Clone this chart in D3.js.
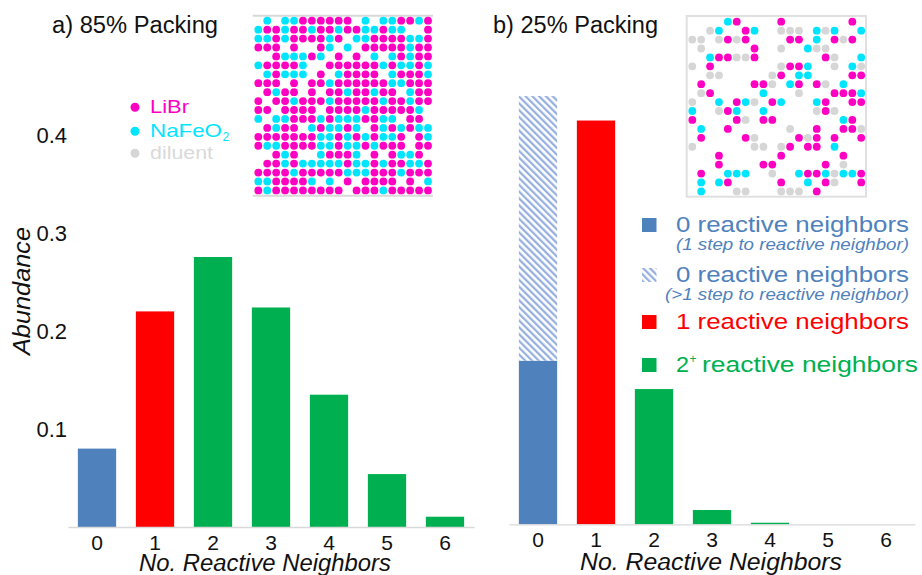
<!DOCTYPE html>
<html>
<head>
<meta charset="utf-8">
<script src="https://cdn.jsdelivr.net/npm/d3@7"></script>
<style>
  html, body { margin: 0; padding: 0; background: #fff; }
  svg { display: block; font-family: Arial, "Liberation Sans", sans-serif; }
</style>
</head>
<body>
<svg id="chart" width="922" height="575"></svg>
<script>
// Number of reactive neighbours on the lattice (x categories)
const categories = [0, 1, 2, 3, 4, 5, 6];
const yTicks = [0.1, 0.2, 0.3, 0.4];

// a) 85% packing — abundance per category
const abundance85 = [0.080, 0.220, 0.2755, 0.224, 0.135, 0.054, 0.0105];
// b) 25% packing — abundance per category (0 neighbours split into 1-step and >1-step parts)
const abundance25 = [0.167, 0.412, 0.138, 0.0146, 0.0016, 0, 0];
const abundance25Far = [0.270, 0, 0, 0, 0, 0, 0];

// Lattice snapshots: M = LiBr, C = NaFeO2, G = diluent, . = empty site
const lattice85 = [
  ".C.CCMMMMMM.C.CCMMCM",
  "CMMCMMCMMCMMCCMCC..M",
  "CCMCMMMMCM.CCMMMMCCM",
  "MMM.M..MC.C.MMMMMCMM",
  "..MCCCMC.M.M.C.CMCMM",
  "CMMMMC..MMMMMMCMCCMC",
  ".CMCCC.M.CMMMM.CMMMC",
  "MMM.M.MMCMMMMMMCCMMM",
  ".MCMM.M.MMCMMCMM.CMM",
  "M.MMCMMMCMMMMMCMMCMM",
  "MM.MMMM.MMMMCMMMMMC.",
  "C.CCMMMCMCCCMMCC.MM.",
  ".MCMM.CMCCMC.MCMCMCC",
  "MMMMMMMCCMCMCMCCM.MC",
  "MCCMMMMCCMCCMCMMM.MM",
  "..MCM..CMMMC.M.MCCM.",
  ".MMCMCCCCCMCCMCMMCCM",
  "MMMMCMMMMMCCCMMMCMMM",
  "CCMMMMC.C.M.MMMM.M.C",
  "MCMMMMMMMM.MMMCMMMMM"
];
const lattice25 = [
  "....CM....M.......M.",
  "..GC..MC..GGG.CGC..C",
  "GG.GMGM....MM.C.MGM.",
  ".G.....M..G..CGG....",
  "..CMMGGM.......MG..C",
  "G.M.......GMMC..G.CG",
  "..GG.....GM.CC....MM",
  ".M.....MMG.CM.MG.C..",
  ".GM.....C...G...MMMC",
  "G..C.MCG.MC...CM..MM",
  "C..GMC..C.....GMG...",
  "M....MG.MM.......CM.",
  ".C..M......G..M..MMG",
  ".M....MG....MGM.M..M",
  "G......GG.GM.MM.C...",
  "...M......M......M..",
  "...M....MM.....M.G..",
  ".M..CCC..G..CMMCGCCM",
  ".C.CM.....M..C.MG..M",
  ".C...GG...GGG.M....."
];
const speciesNames = ["LiBr", "NaFeO", "diluent"];

const COLORS = { blue: "#4f81bd", red: "#ff0000", green: "#00b050", hatch: "#8eaadb", axis: "#d9d9d9" };
const SITE = { M: "#ff00c3", C: "#00e5ff", G: "#d6d6d6" };
const barColor = c => c === 0 ? COLORS.blue : c === 1 ? COLORS.red : COLORS.green;

const svg = d3.select("#chart");
svg.append("rect").attr("width", 922).attr("height", 575).attr("fill", "#fff");

// Diagonal hatch for the >1-step share
const defs = svg.append("defs");
const pat = defs.append("pattern")
  .attr("id", "hatch")
  .attr("patternUnits", "userSpaceOnUse")
  .attr("width", 4.8).attr("height", 4.8)
  .attr("patternTransform", "rotate(-45)");
pat.append("rect").attr("width", 4.8).attr("height", 4.8).attr("fill", "#fff");
pat.append("line").attr("x1", 1.2).attr("y1", 0).attr("x2", 1.2).attr("y2", 4.8)
  .attr("stroke", COLORS.hatch).attr("stroke-width", 2.1);

// ---------- panel helper ----------
function drawPanel({ x0, x1, base, top, values, farValues, showY }) {
  const x = d3.scaleBand().domain(categories).range([x0, x1]).paddingInner(0.34).paddingOuter(0.17);
  const y = d3.scaleLinear().domain([0, 0.4]).range([base, top]);
  const g = svg.append("g");

  g.selectAll("rect.bar").data(categories).join("rect")
    .attr("class", "bar")
    .attr("x", c => x(c)).attr("width", x.bandwidth())
    .attr("y", c => y(values[c])).attr("height", c => y(0) - y(values[c]))
    .attr("fill", c => barColor(c));

  if (farValues) {
    g.selectAll("rect.far").data(categories.filter(c => farValues[c] > 0)).join("rect")
      .attr("class", "far")
      .attr("x", c => x(c)).attr("width", x.bandwidth())
      .attr("y", c => y(values[c] + farValues[c]))
      .attr("height", c => y(values[c]) - y(values[c] + farValues[c]))
      .attr("fill", "url(#hatch)");
  }

  const xAxis = g.append("g").attr("transform", `translate(0,${base})`)
    .call(d3.axisBottom(x).tickSize(0).tickSizeOuter(0).tickPadding(8));
  xAxis.select(".domain").attr("stroke", COLORS.axis).attr("stroke-width", 1.3);
  xAxis.selectAll("text").attr("font-size", 21).attr("font-family", "Arial, 'Liberation Sans', sans-serif").attr("fill", "#111");

  if (showY) {
    const yAxis = g.append("g").attr("transform", `translate(${x0 + 1},0)`)
      .call(d3.axisLeft(y).tickValues(yTicks).tickFormat(d3.format(".1f")).tickSize(0).tickPadding(2));
    yAxis.select(".domain").remove();
    yAxis.selectAll("text").attr("font-size", 22).attr("font-family", "Arial, 'Liberation Sans', sans-serif").attr("fill", "#111");
  }
  return x;
}

drawPanel({ x0: 68, x1: 474, base: 527, top: 135, values: abundance85, showY: true });
drawPanel({ x0: 509, x1: 915, base: 524.3, top: 132.3, values: abundance25, farValues: abundance25Far, showY: false });

// Axis titles
svg.append("text").attr("x", 265).attr("y", 570.5).attr("text-anchor", "middle")
  .attr("font-size", 23).attr("font-style", "italic").attr("fill", "#111")
  .attr("textLength", 252).attr("lengthAdjust", "spacingAndGlyphs").text("No. Reactive Neighbors");
svg.append("text").attr("x", 711).attr("y", 570).attr("text-anchor", "middle")
  .attr("font-size", 23).attr("font-style", "italic").attr("fill", "#111")
  .attr("textLength", 262).attr("lengthAdjust", "spacingAndGlyphs").text("No. Reactive Neighbors");
svg.append("text").attr("transform", "translate(30,291) rotate(-90)").attr("text-anchor", "middle")
  .attr("font-size", 24).attr("font-style", "italic").attr("fill", "#111")
  .attr("textLength", 128).attr("lengthAdjust", "spacingAndGlyphs").text("Abundance");

// Panel titles
svg.append("text").attr("x", 52).attr("y", 33).attr("font-size", 23).attr("fill", "#111")
  .attr("textLength", 166).attr("lengthAdjust", "spacingAndGlyphs").text("a) 85% Packing");
svg.append("text").attr("x", 493).attr("y", 33).attr("font-size", 23).attr("fill", "#111")
  .attr("textLength", 165).attr("lengthAdjust", "spacingAndGlyphs").text("b) 25% Packing");

// ---------- lattice snapshots ----------
function drawLattice(rows, colRange, rowRange) {
  const cx = d3.scalePoint().domain(d3.range(20)).range(colRange);
  const cy = d3.scalePoint().domain(d3.range(20)).range(rowRange);
  const sites = [];
  rows.forEach((row, r) => row.split("").forEach((k, c) => { if (k !== ".") sites.push({ r, c, k }); }));
  svg.append("g").selectAll("circle").data(sites).join("circle")
    .attr("cx", d => cx(d.c)).attr("cy", d => cy(d.r)).attr("r", 3.9)
    .attr("fill", d => SITE[d.k]);
}

// frame of the 85% snapshot (top and bottom rules)
svg.append("line").attr("x1", 252.7).attr("x2", 433).attr("y1", 15.7).attr("y2", 15.7)
  .attr("stroke", "#d9d9d9").attr("stroke-width", 2);
svg.append("line").attr("x1", 252.7).attr("x2", 433).attr("y1", 195.7).attr("y2", 195.7)
  .attr("stroke", "#d9d9d9").attr("stroke-width", 2);
drawLattice(lattice85, [258.3, 428], [20.7, 190.4]);

svg.append("rect").attr("x", 686.7).attr("y", 16).attr("width", 179.3).attr("height", 180.7)
  .attr("fill", "none").attr("stroke", "#e0e0e0").attr("stroke-width", 2);
drawLattice(lattice25, [692.3, 861.2], [21.7, 191.4]);

// ---------- species legend ----------
const spKeys = ["M", "C", "G"];
const spY = [107.3, 131.3, 153.3];
const spWidth = [39, 72, 63];
const spText = ["#ff00c3", "#00e5ff", "#d9d9d9"];
spKeys.forEach((k, i) => {
  svg.append("circle").attr("cx", 135).attr("cy", spY[i]).attr("r", 4.5).attr("fill", SITE[k]);
  svg.append("text").attr("x", 150).attr("y", spY[i] + 5.8).attr("font-size", 18.5).attr("fill", spText[i])
    .attr("textLength", spWidth[i]).attr("lengthAdjust", "spacingAndGlyphs").text(speciesNames[i]);
});
svg.append("text").attr("x", 222.5).attr("y", spY[1] + 9.5).attr("font-size", 12).attr("fill", spText[1]).text("2");

// ---------- reactive-neighbour legend ----------
const legendRows = [
  { fill: COLORS.blue, label: "0 reactive neighbors", note: "(1 step to reactive neighbor)", color: COLORS.blue, y: 225 },
  { fill: "url(#hatch)", label: "0 reactive neighbors", note: "(>1 step to reactive neighbor)", color: COLORS.blue, y: 275 },
  { fill: COLORS.red, label: "1 reactive neighbors", color: COLORS.red, y: 322 },
  { fill: COLORS.green, label: "2", sup: "+", rest: "reactive neighbors", color: COLORS.green, y: 365 }
];
legendRows.forEach(d => {
  svg.append("rect").attr("x", 642).attr("y", d.y - 7).attr("width", 14.5).attr("height", 14)
    .attr("fill", d.fill);
  if (d.sup) {
    svg.append("text").attr("x", 676).attr("y", d.y + 7).attr("font-size", 22).attr("fill", d.color)
      .attr("textLength", 13).attr("lengthAdjust", "spacingAndGlyphs").text(d.label);
    svg.append("text").attr("x", 689.5).attr("y", d.y - 2).attr("font-size", 12).attr("fill", d.color).text(d.sup);
    svg.append("text").attr("x", 702).attr("y", d.y + 7).attr("font-size", 22).attr("fill", d.color)
      .attr("textLength", 216).attr("lengthAdjust", "spacingAndGlyphs").text(d.rest);
  } else {
    svg.append("text").attr("x", 676).attr("y", d.y + 6.5).attr("font-size", 22).attr("fill", d.color)
      .attr("textLength", 233).attr("lengthAdjust", "spacingAndGlyphs").text(d.label);
  }
  if (d.note) {
    svg.append("text").attr("x", 909).attr("y", d.y + 24.5).attr("text-anchor", "end")
      .attr("font-size", 16.5).attr("font-style", "italic").attr("fill", d.color)
      .attr("textLength", d.note.startsWith("(>") ? 244 : 233).attr("lengthAdjust", "spacingAndGlyphs")
      .text(d.note);
  }
});
</script>
</body>
</html>
